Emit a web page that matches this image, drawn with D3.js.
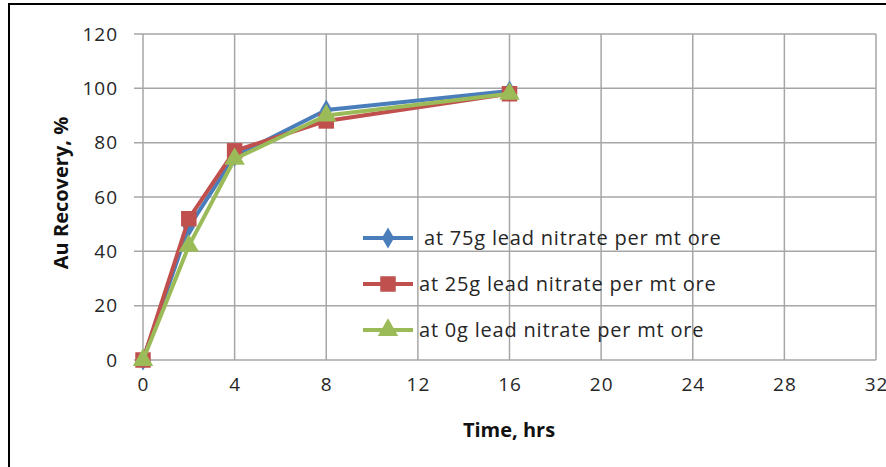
<!DOCTYPE html>
<html>
<head>
<meta charset="utf-8">
<script src="https://cdn.jsdelivr.net/npm/d3@7"></script>
<style>
  body { margin: 0; background: #fff; }
  svg { display: block; font-family: 'Open Sans', sans-serif; }
</style>
</head>
<body>
<svg id="chart" width="886" height="467"></svg>
<script>
'use strict';

// hours
const times = [0, 2, 4, 8, 16];
// Au recovery, % per lead nitrate dosage
const rec75 = [0, 49, 75, 92, 99];
const rec25 = [0, 52, 77, 88, 98];
const rec0 = [0, 42, 74, 90, 98];
const seriesNames = ['at 75g lead nitrate per mt ore', 'at 25g lead nitrate per mt ore', 'at 0g lead nitrate per mt ore'];
const xTicks = [0, 4, 8, 12, 16, 20, 24, 28, 32];
const yTicks = [0, 20, 40, 60, 80, 100, 120];

const series = [
  { name: seriesNames[0], values: rec75, color: '#4a7ebb', marker: d3.symbolDiamond, size: 130 },
  { name: seriesNames[1], values: rec25, color: '#c0504d', marker: d3.symbolSquare, size: 240 },
  { name: seriesNames[2], values: rec0, color: '#9bbb59', marker: d3.symbolTriangle, size: 180 }
];

const svg = d3.select('#chart');

// outer frame of the chart
svg.append('rect')
  .attr('x', 9).attr('y', 4)
  .attr('width', 900).attr('height', 480)
  .attr('fill', 'none')
  .attr('stroke', '#000')
  .attr('stroke-width', 2);

const margin = { top: 34, left: 143 },
  width = 733,
  height = 326;

const x = d3.scaleLinear().domain([0, 32]).range([0, width]),
  y = d3.scaleLinear().domain([0, 120]).range([height, 0]);

const g = svg.append('g')
  .attr('transform', 'translate(' + margin.left + ',' + margin.top + ')');

// grid
g.append('g')
  .selectAll('line')
  .data(yTicks)
  .enter()
  .append('line')
  .attr('x1', -9).attr('x2', width)
  .attr('y1', (d) => y(d)).attr('y2', (d) => y(d))
  .attr('stroke', '#a6a6a6')
  .attr('stroke-width', 1.5);

g.append('g')
  .selectAll('line')
  .data(xTicks)
  .enter()
  .append('line')
  .attr('x1', (d) => x(d)).attr('x2', (d) => x(d))
  .attr('y1', 0).attr('y2', height)
  .attr('stroke', '#a6a6a6')
  .attr('stroke-width', 1.5);

// axes (labels only, lines drawn by grid)
const yAxis = g.append('g')
  .call(d3.axisLeft(y).tickValues(yTicks).tickSize(0).tickPadding(25));
const xAxis = g.append('g')
  .attr('transform', 'translate(0,' + height + ')')
  .call(d3.axisBottom(x).tickValues(xTicks).tickSize(0).tickPadding(18));
[yAxis, xAxis].forEach((a) => {
  a.select('.domain').remove();
  a.selectAll('text')
    .attr('font-family', 'Open Sans, sans-serif')
    .attr('font-size', 19)
    .attr('letter-spacing', 1)
    .attr('fill', '#262626');
});

// lines and markers
const line = d3.line()
  .x((d, i) => x(times[i]))
  .y((d) => y(d));

series.forEach((s) => {
  g.append('path')
    .datum(s.values)
    .attr('fill', 'none')
    .attr('stroke', s.color)
    .attr('stroke-width', 4)
    .attr('stroke-linejoin', 'round')
    .attr('d', line);
  g.selectAll(null)
    .data(s.values)
    .enter()
    .append('path')
    .attr('transform', (d, i) => 'translate(' + x(times[i]) + ',' + y(d) + ')')
    .attr('d', d3.symbol().type(s.marker).size(s.size))
    .attr('fill', s.color);
});

// legend
const legend = g.append('g')
  .attr('transform', 'translate(220,204)');
series.forEach((s, i) => {
  const row = legend.append('g')
    .attr('transform', 'translate(0,' + (i * 46) + ')');
  row.append('line')
    .attr('x1', 0).attr('x2', 50)
    .attr('stroke', s.color)
    .attr('stroke-width', 4);
  row.append('path')
    .attr('transform', 'translate(25,0)')
    .attr('d', d3.symbol().type(s.marker).size(s.size))
    .attr('fill', s.color);
  row.append('text')
    .attr('x', i === 0 ? 61 : 56)
    .attr('dy', '0.35em')
    .attr('font-size', 20)
    .attr('letter-spacing', 0.8)
    .attr('fill', '#262626')
    .text(s.name);
});

// axis titles
svg.append('text')
  .attr('x', 509).attr('y', 437)
  .attr('text-anchor', 'middle')
  .attr('font-weight', 'bold')
  .attr('font-size', 20)
  .attr('fill', '#111')
  .text('Time, hrs');

svg.append('text')
  .attr('transform', 'translate(68,193) rotate(-90)')
  .attr('text-anchor', 'middle')
  .attr('font-weight', 'bold')
  .attr('font-size', 20)
  .attr('fill', '#111')
  .text('Au Recovery, %');
</script>
</body>
</html>
